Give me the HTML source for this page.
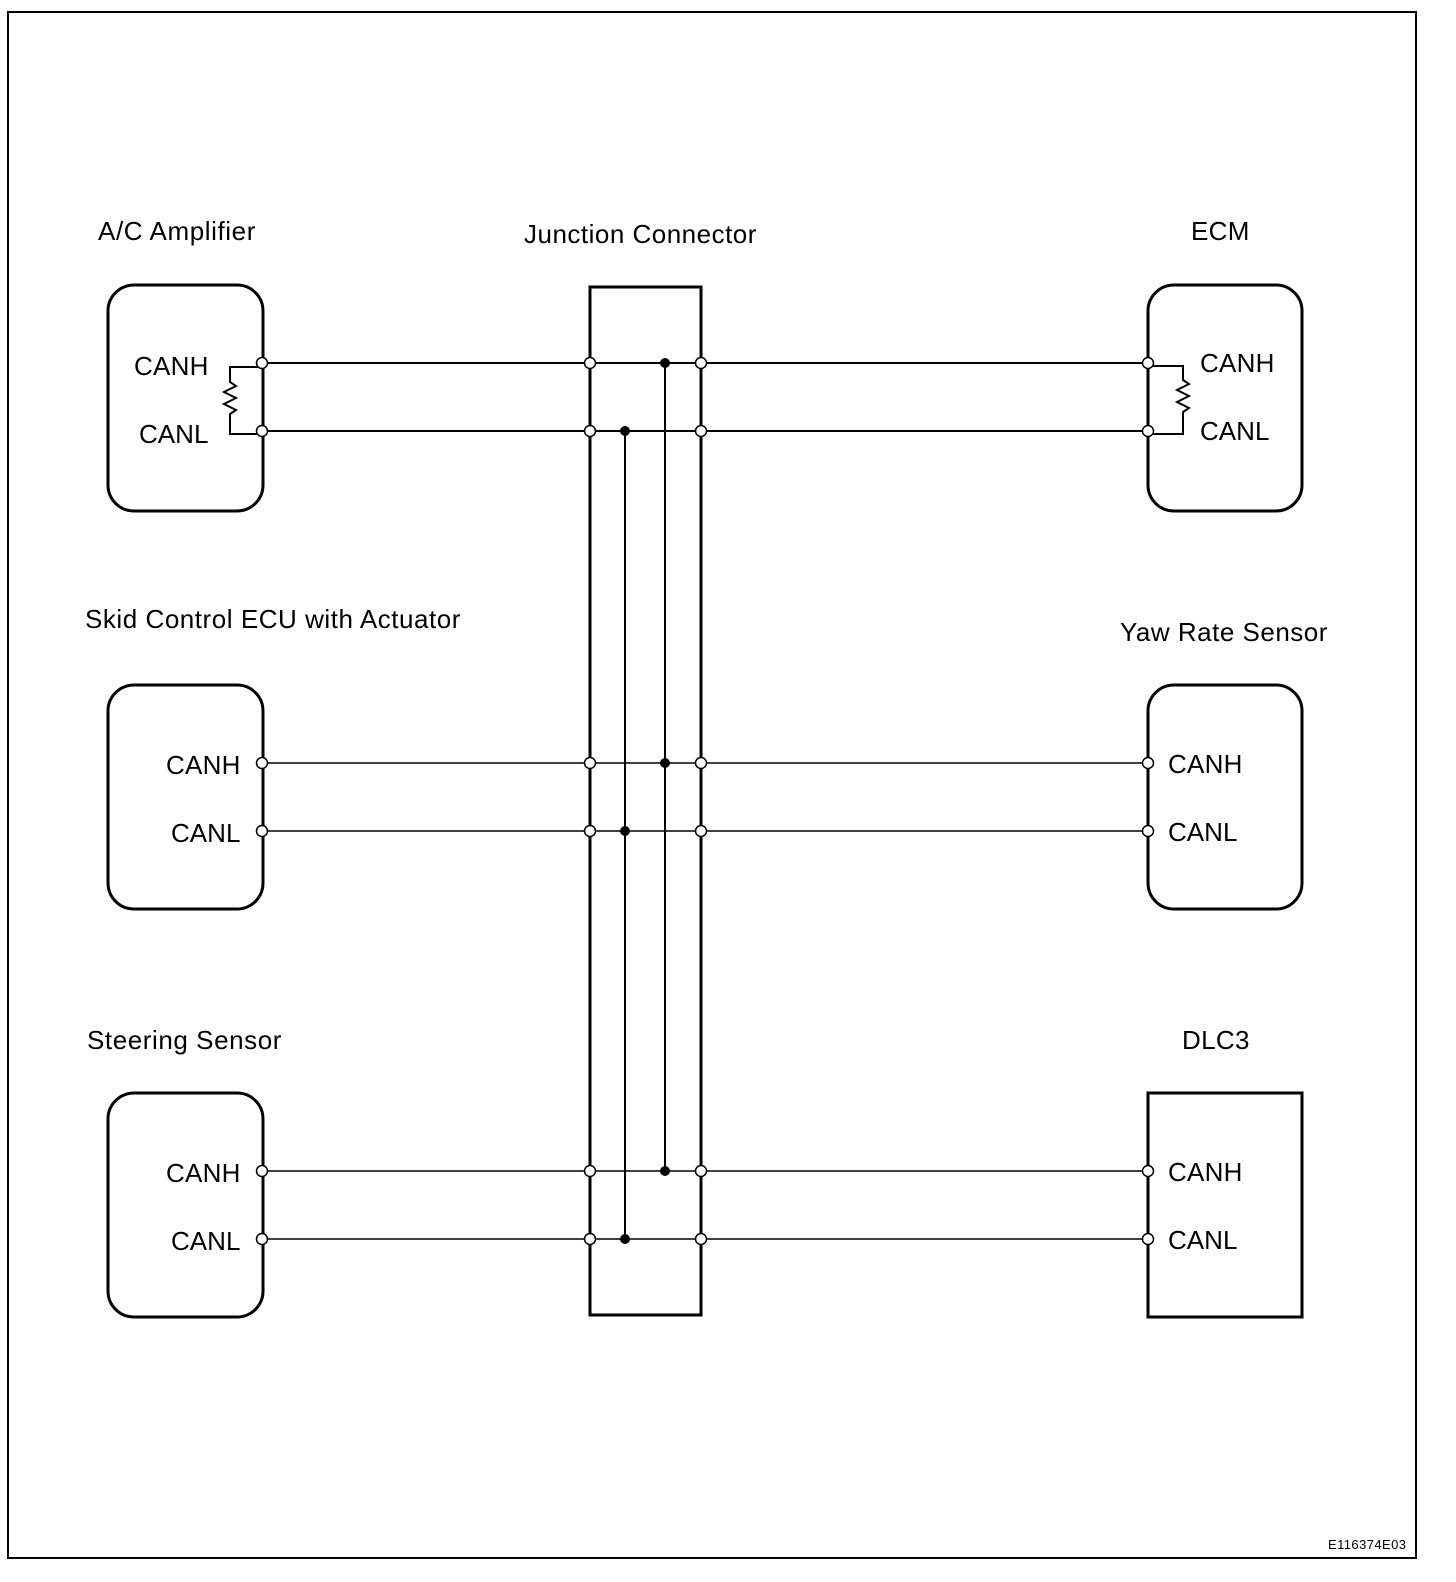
<!DOCTYPE html>
<html><head><style>html,body{margin:0;padding:0;overflow:hidden;background:#fff;width:1456px;height:1582px}svg{display:block}text{font-family:"Liberation Sans",sans-serif;font-size:26px;letter-spacing:0.6px;fill:#000}</style></head>
<body>
<svg width="1456" height="1582" viewBox="0 0 1456 1582" xmlns="http://www.w3.org/2000/svg">
<rect x="8" y="12" width="1408" height="1546" fill="none" stroke="#000" stroke-width="2"/>
<g fill="none" stroke="#000" stroke-width="3">
<rect x="108" y="285" width="155" height="226" rx="26"/>
<rect x="108" y="685" width="155" height="224" rx="26"/>
<rect x="108" y="1093" width="155" height="224" rx="26"/>
<rect x="1148" y="285" width="154" height="226" rx="26"/>
<rect x="1148" y="685" width="154" height="224" rx="26"/>
<rect x="1148" y="1093" width="154" height="224"/>
<rect x="590" y="287" width="111" height="1028"/>
</g>
<g stroke="#000" stroke-width="2" fill="none">
<line x1="263" y1="363" x2="1148" y2="363"/>
<line x1="263" y1="431" x2="1148" y2="431"/>
<line x1="263" y1="763" x2="1148" y2="763" stroke-width="1.6"/>
<line x1="263" y1="831" x2="1148" y2="831" stroke-width="1.4"/>
<line x1="263" y1="1171" x2="1148" y2="1171" stroke-width="1.6"/>
<line x1="263" y1="1239" x2="1148" y2="1239" stroke-width="1.4"/>
<line x1="665" y1="363" x2="665" y2="1171"/>
<line x1="625" y1="431" x2="625" y2="1239"/>
<polyline points="263,367 230,367 230,382 236,386 224,392 236,398 224,404 236,410 230,414 230,434 263,434"/>
<polyline points="1148,366 1183,366 1183,380 1189,384 1177,390 1189,396 1177,402 1189,408 1183,412 1183,434 1148,434"/>
</g>
<g fill="#000">
<circle cx="665" cy="363" r="5"/><circle cx="625" cy="431" r="5"/>
<circle cx="665" cy="763" r="5"/><circle cx="625" cy="831" r="5"/>
<circle cx="665" cy="1171" r="5"/><circle cx="625" cy="1239" r="5"/>
</g>
<g fill="#fff" stroke="#000" stroke-width="1.5">
<circle cx="262" cy="363" r="5.5"/><circle cx="590" cy="363" r="5.5"/><circle cx="701" cy="363" r="5.5"/><circle cx="1148" cy="363" r="5.5"/>
<circle cx="262" cy="431" r="5.5"/><circle cx="590" cy="431" r="5.5"/><circle cx="701" cy="431" r="5.5"/><circle cx="1148" cy="431" r="5.5"/>
<circle cx="262" cy="763" r="5.5"/><circle cx="590" cy="763" r="5.5"/><circle cx="701" cy="763" r="5.5"/><circle cx="1148" cy="763" r="5.5"/>
<circle cx="262" cy="831" r="5.5"/><circle cx="590" cy="831" r="5.5"/><circle cx="701" cy="831" r="5.5"/><circle cx="1148" cy="831" r="5.5"/>
<circle cx="262" cy="1171" r="5.5"/><circle cx="590" cy="1171" r="5.5"/><circle cx="701" cy="1171" r="5.5"/><circle cx="1148" cy="1171" r="5.5"/>
<circle cx="262" cy="1239" r="5.5"/><circle cx="590" cy="1239" r="5.5"/><circle cx="701" cy="1239" r="5.5"/><circle cx="1148" cy="1239" r="5.5"/>
</g>
<text x="98" y="240" textLength="158">A/C Amplifier</text>
<text x="524" y="243" textLength="233">Junction Connector</text>
<text x="1191" y="240" textLength="59">ECM</text>
<text x="85" y="628" textLength="376">Skid Control ECU with Actuator</text>
<text x="1120" y="641" textLength="208">Yaw Rate Sensor</text>
<text x="87" y="1049" textLength="195">Steering Sensor</text>
<text x="1182" y="1049" textLength="68">DLC3</text>
<text x="134" y="375" textLength="75">CANH</text>
<text x="139" y="443" textLength="70">CANL</text>
<text x="1200" y="372" textLength="75">CANH</text>
<text x="1200" y="440" textLength="70">CANL</text>
<text x="166" y="774" textLength="75">CANH</text>
<text x="171" y="842" textLength="70">CANL</text>
<text x="1168" y="773" textLength="75">CANH</text>
<text x="1168" y="841" textLength="70">CANL</text>
<text x="166" y="1182" textLength="75">CANH</text>
<text x="171" y="1250" textLength="70">CANL</text>
<text x="1168" y="1181" textLength="75">CANH</text>
<text x="1168" y="1249" textLength="70">CANL</text>
<text x="1328" y="1549" style="font-size:13px;letter-spacing:0" textLength="78">E116374E03</text>
</svg>
</body></html>
